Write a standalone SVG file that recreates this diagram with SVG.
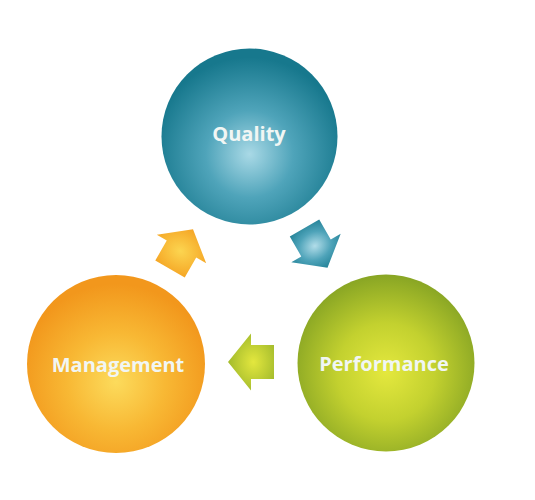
<svg xmlns="http://www.w3.org/2000/svg" width="535" height="500" viewBox="0 0 535 500">
  <defs>
    <radialGradient id="gBlue" cx="0.5" cy="0.6" r="0.55" fx="0.5" fy="0.6">
      <stop offset="0" stop-color="#a9d9e6"/>
      <stop offset="0.45" stop-color="#4fa4ba"/>
      <stop offset="1" stop-color="#17788d"/>
    </radialGradient>
    <radialGradient id="gOrange" cx="0.5" cy="0.6" r="0.55" fx="0.5" fy="0.6">
      <stop offset="0" stop-color="#fcdb5c"/>
      <stop offset="0.5" stop-color="#f8b834"/>
      <stop offset="1" stop-color="#f2971c"/>
    </radialGradient>
    <radialGradient id="gGreen" cx="0.5" cy="0.55" r="0.55" fx="0.5" fy="0.55">
      <stop offset="0" stop-color="#e4e83e"/>
      <stop offset="0.5" stop-color="#c3d12f"/>
      <stop offset="1" stop-color="#88a524"/>
    </radialGradient>
    <radialGradient id="aBlue" cx="0.45" cy="0.5" r="0.6">
      <stop offset="0" stop-color="#b2dde9"/>
      <stop offset="0.5" stop-color="#4ea3b9"/>
      <stop offset="1" stop-color="#1a7b90"/>
    </radialGradient>
    <radialGradient id="aOrange" cx="0.45" cy="0.5" r="0.6">
      <stop offset="0" stop-color="#fcd550"/>
      <stop offset="1" stop-color="#f4a020"/>
    </radialGradient>
    <radialGradient id="aGreen" cx="0.45" cy="0.5" r="0.6">
      <stop offset="0" stop-color="#e3e73e"/>
      <stop offset="1" stop-color="#9db72b"/>
    </radialGradient>
    <path id="arrow" d="M0,-17 L23,-17 L23,-28.5 L46,0 L23,28.5 L23,17 L0,17 Z"/>
  </defs>
  <style>
    .lbl { font-family: "Open Sans", "Liberation Sans", sans-serif; font-weight: 700; font-size: 20px; fill: #f1f6f4; text-anchor: middle; }
  </style>
  <g id="connectors">
    <use href="#arrow" transform="translate(304.5,228) rotate(60)" fill="url(#aBlue)"/>
    <use href="#arrow" transform="translate(274,362) rotate(180)" fill="url(#aGreen)"/>
    <use href="#arrow" transform="translate(170,269) rotate(-60)" fill="url(#aOrange)"/>
  </g>
  <g id="quality">
    <circle cx="249.5" cy="136.5" r="88" fill="url(#gBlue)"/>
    <text class="lbl" x="249" y="141">Quality</text>
  </g>
  <g id="performance">
    <circle cx="386" cy="363" r="88.5" fill="url(#gGreen)"/>
    <text class="lbl" x="384" y="371">Performance</text>
  </g>
  <g id="management">
    <circle cx="116" cy="364" r="89" fill="url(#gOrange)"/>
    <text class="lbl" x="118" y="372">Management</text>
  </g>
</svg>
